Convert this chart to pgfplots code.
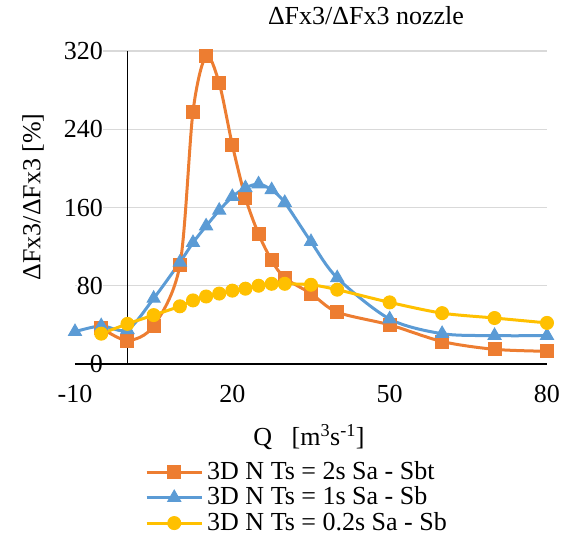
\documentclass[border=0pt]{standalone}
\usepackage{fontspec}
\setmainfont{Liberation Serif}
\usepackage{pgfplots}
\pgfplotsset{compat=1.18}
\definecolor{sOrange}{HTML}{ED7D31}
\definecolor{sBlue}{HTML}{5B9BD5}
\definecolor{sYellow}{HTML}{FFC000}
\definecolor{gridgray}{HTML}{D9D9D9}

\begin{document}
\fontsize{26}{31}\selectfont
\begin{tikzpicture}
\begin{axis}[
  at={(0pt,0pt)}, anchor=south west,
  scale only axis, width=472pt, height=313pt,
  xmin=-10, xmax=80, ymin=0, ymax=320,
  axis line style={draw=none},
  xtick={-10,20,50,80}, xticklabels={-10,20,50,80},
  ytick={0,80,160,240,320}, yticklabels={0,80,160,240,320},
  major tick length=0pt,
  ymajorgrids, grid style={gridgray, line width=1.3pt},
  yticklabel style={inner sep=0pt, anchor=east, xshift=28pt, fill=white},
  xticklabel style={inner sep=0pt, anchor=north, yshift=-21pt},
  clip=false,
  title={ΔFx3/ΔFx3 nozzle},
  title style={at={(0.6165,1.0927)}, anchor=center, inner sep=0pt},
  xlabel={Q\ \ \ [m\textsuperscript{3}s\textsuperscript{-1}]},
  xlabel style={at={(0.4958,-0.233)}, anchor=center, inner sep=0pt},
  ylabel={ΔFx3/ΔFx3 [\%]},
  ylabel style={at={(-0.089,0.534)}, anchor=center, inner sep=0pt},
  legend style={at={(0.1484,-0.310)}, anchor=north west, draw=none, fill=none,
    inner sep=0pt, nodes={inner sep=0pt}, row sep=3.5pt, column sep=4pt,
    cells={anchor=west}},
  legend image code/.code={\draw[mark repeat=2, mark phase=2]
    plot coordinates {(0pt,0pt) (27.5pt,0pt) (55pt,0pt)};},
  every axis plot/.append style={line width=3pt, smooth},
]
% vertical axis line at Q = 0, beneath the series
\draw[black, line width=1.5pt] (axis cs:0,0) -- (axis cs:0,320);
\coordinate (xl) at (axis cs:-10,0);
\coordinate (xr) at (axis cs:80,0);

\addplot[sOrange, mark=square*, mark size=6.5pt,
  mark options={solid, fill=sOrange, draw=sOrange, line width=1pt}]
  coordinates {(-5,37)(0,24)(5,39)(10,101)(12.5,258)(15,315)(17.5,287)(20,224)
  (22.5,170)(25,133)(27.5,106)(30,88)(35,72)(40,53)(50,40)(60,23)(70,15)(80,13)};
\addlegendentry{3D N Ts = 2s Sa - Sbt}

\addplot[sBlue, mark=triangle*, mark size=7.5pt,
  mark options={solid, fill=sBlue, draw=sBlue, line width=1pt}]
  coordinates {(-10,33)(-5,39)(0,35)(5,67)(10,104)(12.5,124)(15,141)(17.5,157)
  (20,171)(22.5,180)(25,184)(27.5,178)(30,165)(35,125)(40,88)(50,46)(60,31)(70,29)(80,29)};
\addlegendentry{3D N Ts = 1s Sa - Sb}

\addplot[sYellow, mark=*, mark size=6.5pt,
  mark options={solid, fill=sYellow, draw=sYellow, line width=1pt}]
  coordinates {(-5,31)(0,41)(5,50)(10,59)(12.5,65)(15,69)(17.5,72)(20,75)
  (22.5,77)(25,80)(27.5,82)(30,82)(35,81)(40,76)(50,63)(60,52)(70,47)(80,42)};
\addlegendentry{3D N Ts = 0.2s Sa - Sb}
\end{axis}
% horizontal axis line at 0
\draw[black, line width=1.5pt] (xl) -- (xr);
\pgfresetboundingbox
\path[use as bounding box] (-75pt,-171pt) rectangle (491pt,364pt);
\end{tikzpicture}
\end{document}
